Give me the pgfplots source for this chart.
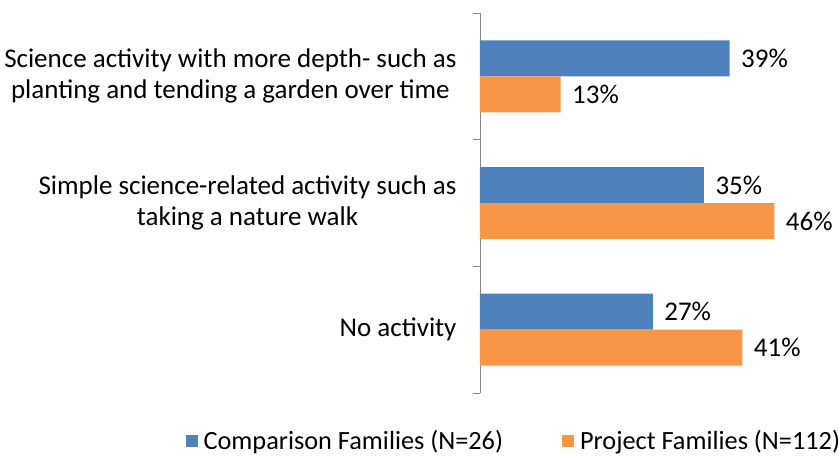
\documentclass[border=0pt]{standalone}
\usepackage{fontspec}
\setmainfont{Carlito}
\usepackage{pgfplots}
\pgfplotsset{compat=1.18}
\definecolor{cblue}{HTML}{4F81BD}
\definecolor{corange}{HTML}{F79646}
\definecolor{axgray}{HTML}{868686}
\newcommand\cf{\fontsize{27pt}{31pt}\selectfont}
\newcommand\lf{\fontsize{26.3pt}{31pt}\selectfont}
\begin{document}
\begin{tikzpicture}
\useasboundingbox (0,0) rectangle (839pt,-458pt);
\begin{axis}[
    at={(480pt,-393pt)}, anchor=south west,
    scale only axis, width=320pt, height=380pt,
    xbar, bar width=36pt,
    xmin=0, xmax=50, ymin=-0.5, ymax=2.5,
    axis x line=none, axis y line*=left,
    y axis line style={axgray, line width=0.8pt, -},
    xtick=\empty,
    ytick={0,1,2},
    yticklabels={No activity,
        {Simple science-related activity such as\\taking a nature walk},
        {Science activity with more depth- such as\\planting and tending a garden over time}},
    minor ytick={-0.5,0.5,1.5,2.5},
    major tick length=0pt, minor tick length=7pt,
    tick align=outside,
    tick style={axgray, line width=0.8pt},
    yticklabel style={align=center, font=\cf, xshift=-20pt},
    /pgf/number format/assume math mode=true,
    point meta=x,
    nodes near coords={\pgfmathprintnumber[fixed,precision=0]{\pgfplotspointmeta}\%},
    nodes near coords style={font=\cf, anchor=west, xshift=8pt},
    clip=false,
    legend columns=2,
    legend style={at={(-0.93,-0.126)}, anchor=west, draw=none, font=\lf,
        /tikz/every odd column/.append style={column sep=4pt},
        /tikz/every even column/.append style={column sep=57pt}},
    legend image code/.code={\fill[#1] (0pt,-6pt) rectangle (12pt,6pt);},
]
\addplot[fill=cblue, draw=none, bar shift=18pt] coordinates {(27,0) (35,1) (39,2)};
\addlegendentry{Comparison Families (N=26)}
\addplot[fill=corange, draw=none, bar shift=-18pt] coordinates {(41,0) (46,1) (12.6,2)};
\addlegendentry{Project Families (N=112)}
\end{axis}
\end{tikzpicture}
\end{document}
